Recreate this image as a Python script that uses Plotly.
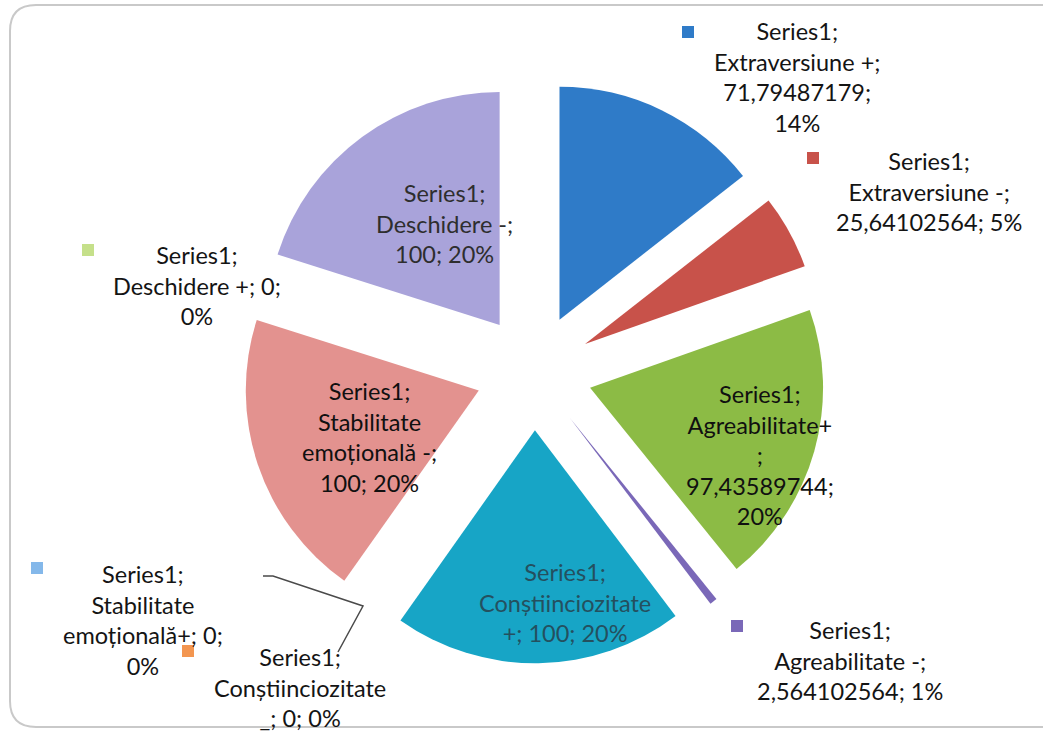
import plotly.graph_objects as go

W, H = 1043, 736

# ---- data ----
series_name = "Series1"
categories = [
    "Extraversiune +", "Extraversiune -", "Agreabilitate+", "Agreabilitate -",
    "Conștiinciozitate +", "Conștiinciozitate _", "Stabilitate emoțională+",
    "Stabilitate emoțională -", "Deschidere +", "Deschidere -",
]
values = [71.79487179, 25.64102564, 97.43589744, 2.564102564, 100, 0, 0, 100, 0, 100]

# ---- styles ----
colors = ["#2F7BC8", "#C8524A", "#8CBB45", "#7A68B8", "#17A5C6",
          "#F39650", "#84B8EA", "#E3928F", "#C5E08A", "#A9A3DA"]

# label layout: (template, center x px, center y px, marker px or None, text colour)
label_layout = [
    ("{s};<br>{c};<br>{v};<br>{p}", 797, 77, (688, 32), "#141414"),
    ("{s};<br>{c};<br>{v}; {p}", 929, 191, (813, 158), "#141414"),
    ("{s};<br>{c}<br>;<br>{v};<br>{p}", 760, 455, None, "#101010"),
    ("{s};<br>{c};<br>{v}; {p}", 850, 660, (737, 626), "#141414"),
    ("{s};<br>{cb}; {v}; {p}", 565, 602, None, "#24505f"),
    ("{s};<br>{cb}; {v}; {p}", 300, 687, (188, 651), "#141414"),
    ("{s};<br>{cb}; {v};<br>{p}", 143, 620, (37, 568), "#141414"),
    ("{s};<br>{cb};<br>{v}; {p}", 369, 437, None, "#101010"),
    ("{s};<br>{c}; {v};<br>{p}", 197, 285, (88, 250), "#141414"),
    ("{s};<br>{c};<br>{v}; {p}", 444, 223, None, "#2e2e2e"),
]

def px(x, y):
    return x / W, 1 - y / H

total = sum(values)

def fmt_val(v):
    return f"{v:.10g}".replace(".", ",")

fig = go.Figure()

# pie geometry: centre (534, 372) px, radius 233 px, pull 0.25
r_px, pull = 233, 0.25
box = 2 * r_px * (1 + pull)
cx, cy = 534, 372
fig.add_trace(go.Pie(
    labels=categories,
    values=values,
    sort=False,
    direction="clockwise",
    rotation=0,
    pull=[pull] * len(values),
    marker=dict(colors=colors, line=dict(width=0)),
    textinfo="none",
    hoverinfo="skip",
    showlegend=False,
    domain=dict(x=[(cx - box / 2) / W, (cx + box / 2) / W],
                y=[1 - (cy + box / 2) / H, 1 - (cy - box / 2) / H]),
))

annotations = []
shapes = []
for cat, val, col, (tpl, lx, ly, mk, tcol) in zip(categories, values, colors, label_layout):
    pct = f"{round(val / total * 100)}%"
    cb = cat.replace(" ", "<br>", 1)
    text = tpl.format(s=series_name, c=cat, cb=cb, v=fmt_val(val), p=pct)
    ax, ay = px(lx, ly)
    annotations.append(dict(
        x=ax, y=ay, xref="paper", yref="paper", text=text, showarrow=False,
        xanchor="center", yanchor="middle", align="center",
        font=dict(family="Lato, sans-serif", size=23.5, color=tcol),
    ))
    if mk is not None:
        x0, y0 = px(mk[0] - 6, mk[1] - 6)
        x1, y1 = px(mk[0] + 6, mk[1] + 6)
        shapes.append(dict(type="rect", xref="paper", yref="paper",
                           x0=x0, y0=y0, x1=x1, y1=y1,
                           fillcolor=col, line=dict(width=0)))

# leader line for the zero-value label
pts = [(263, 576), (273, 576), (363, 606), (338, 652)]
path = "M " + " L ".join(f"{px(x, y)[0]:.5f},{px(x, y)[1]:.5f}" for x, y in pts)
shapes.append(dict(type="path", xref="paper", yref="paper", path=path,
                   line=dict(color="#4a4a4a", width=1.5)))

# chart-area rounded border
L, T, R, B, rad = 10, 5, 1090, 727, 26
def P(x, y):
    a, b = px(x, y)
    return f"{a:.5f},{b:.5f}"
border = (f"M {P(L + rad, T)} L {P(R - rad, T)} Q {P(R, T)} {P(R, T + rad)} "
          f"L {P(R, B - rad)} Q {P(R, B)} {P(R - rad, B)} L {P(L + rad, B)} "
          f"Q {P(L, B)} {P(L, B - rad)} L {P(L, T + rad)} Q {P(L, T)} {P(L + rad, T)} Z")
shapes.append(dict(type="path", xref="paper", yref="paper", path=border,
                   line=dict(color="#c9c9c9", width=2)))

fig.update_layout(
    width=W, height=H,
    margin=dict(l=0, r=0, t=0, b=0),
    paper_bgcolor="white", plot_bgcolor="white",
    annotations=annotations, shapes=shapes,
    showlegend=False,
)

fig.write_html(
    "out.html",
    config={"displayModeBar": False},
    post_script="document.body.style.margin='0';document.body.style.overflow='hidden';",
)
